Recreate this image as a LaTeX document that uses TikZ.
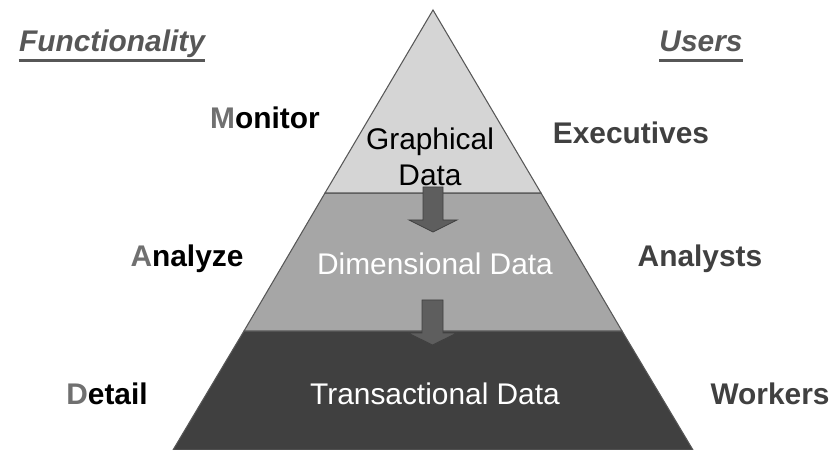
\documentclass[tikz,border=0pt]{standalone}
\usepackage{fontspec}
\setmainfont{Liberation Sans}
\definecolor{bandtop}{HTML}{D5D5D5}
\definecolor{bandmid}{HTML}{A6A6A6}
\definecolor{bandlow}{HTML}{404040}
\definecolor{arrowgray}{HTML}{5E5E5E}
\definecolor{headgray}{HTML}{575757}
\definecolor{initgray}{HTML}{707070}
\definecolor{usergray}{HTML}{404040}
\tikzset{
  lbl/.style={anchor=base,font=\fontsize{17}{20.5}\selectfont\bfseries},
  heading/.style={lbl,inner sep=0pt,text=headgray,font=\fontsize{17}{20.5}\selectfont\bfseries\itshape},
  band/.style={draw=headgray,line width=0.6pt},
  inband/.style={anchor=base,font=\fontsize{17}{20.5}\selectfont}
}
\begin{document}
\begin{tikzpicture}[scale=1]
\useasboundingbox (0,0) rectangle (16.7,9);

% Bande du bas
\filldraw[band,fill=bandlow] (3.46,0) -- (13.86,0) -- (12.44,2.38) -- (4.88,2.38) -- cycle;
% Bande du milieu
\filldraw[band,fill=bandmid] (4.88,2.38) -- (12.44,2.38) -- (10.82,5.14) -- (6.5,5.14) -- cycle;
% Sommet
\filldraw[band,fill=bandtop] (6.5,5.14) -- (10.82,5.14) -- (8.66,8.8) -- cycle;

% Flèches
\filldraw[draw=bandlow,fill=arrowgray,line width=0.5pt] (8.46,5.26) -- (8.86,5.26) -- (8.86,4.6) -- (9.14,4.6) -- (8.66,4.36) -- (8.18,4.6) -- (8.46,4.6) -- cycle;
\filldraw[draw=bandlow,fill=arrowgray,line width=0.5pt] (8.44,3.0) -- (8.86,3.0) -- (8.86,2.34) -- (9.14,2.34) -- (8.65,2.1) -- (8.16,2.34) -- (8.44,2.34) -- cycle;

% Titres
\node[heading] (func) at (2.24,7.96) {Functionality};
\node[heading] (users) at (14.02,7.96) {Users};
\draw[headgray,line width=1.6pt] ([yshift=-5pt]func.base west) -- ([yshift=-5pt]func.base east);
\draw[headgray,line width=1.6pt] ([yshift=-5pt]users.base west) -- ([yshift=-5pt]users.base east);

% Contenu des bandes
\node[inband,anchor=center,align=center] (graph) at (8.6,5.86) {Graphical\\Data};
\node[inband,text=white] (dim) at (8.7,3.5) {Dimensional Data};
\node[inband,text=white] (trans) at (8.7,0.9) {Transactional Data};

% Fonctionnalités
\node[lbl] (monitor) at (5.3,6.42) {\textcolor{initgray}{M}onitor};
\node[lbl] (analyze) at (3.74,3.66) {\textcolor{initgray}{A}nalyze};
\node[lbl] (detail) at (2.14,0.9) {\textcolor{initgray}{D}etail};

% Utilisateurs
\node[lbl,text=usergray] (exec) at (12.62,6.12) {Executives};
\node[lbl,text=usergray] (analysts) at (14.0,3.66) {Analysts};
\node[lbl,text=usergray] (workers) at (15.4,0.9) {Workers};

\end{tikzpicture}
\end{document}
